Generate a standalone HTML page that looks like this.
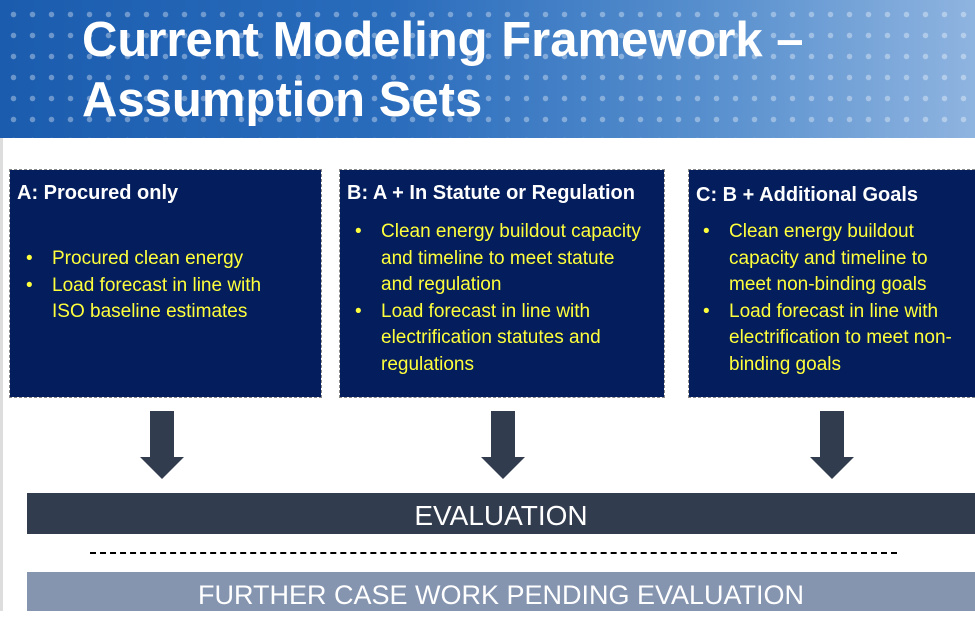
<!DOCTYPE html>
<html><head><style>
body{margin:0;width:975px;height:611px;overflow:hidden;background:#fff;font-family:"Liberation Sans",sans-serif;position:relative}
.hdr{position:absolute;left:0;top:0;width:975px;height:138px;background:linear-gradient(90deg,#1b5cae 0%,#2a6cbc 40%,#5b92cf 75%,#8fb4e0 100%)}
.dots{position:absolute;left:0;top:0;width:975px;height:138px;background-image:radial-gradient(circle,rgba(255,255,255,.35) 2.5px,transparent 3px);background-size:19px 21px;background-position:4px 4px}
.t{position:absolute;left:82px;color:#fff;font-weight:bold;font-size:49px;white-space:nowrap;letter-spacing:0}
.box{position:absolute;top:170px;height:227px;background:#041d5c;outline:1px dashed #888;color:#fff}
.box h3{margin:0;position:absolute;left:7px;top:12px;font-size:20px;font-weight:bold;white-space:nowrap}
.box ul{position:absolute;margin:0;padding:0;list-style:none;color:#ffff3c;font-size:19px;line-height:26.6px}
.box li{position:relative;padding-left:34px;white-space:nowrap}
.box li:before{content:"•";position:absolute;left:8px}
.arr{position:absolute;top:411px;width:44px;height:68px}
.bar{position:absolute;left:27px;width:948px;color:#fff;text-align:center}
</style></head><body>
<div class="hdr"></div><div class="dots"></div>
<div class="t" style="top:12px">Current Modeling Framework –</div>
<div class="t" style="top:72px">Assumption Sets</div>
<div style="position:absolute;left:0;top:138px;width:3px;height:473px;background:#ddd"></div>

<div class="box" style="left:10px;width:311px"><h3>A: Procured only</h3>
<ul style="top:76px;left:8px"><li>Procured clean energy</li><li>Load forecast in line with<br>ISO baseline estimates</li></ul></div>
<div class="box" style="left:340px;width:324px"><h3>B: A + In Statute or Regulation</h3>
<ul style="top:49px;left:7px"><li>Clean energy buildout capacity<br>and timeline to meet statute<br>and regulation</li><li>Load forecast in line with<br>electrification statutes and<br>regulations</li></ul></div>
<div class="box" style="left:689px;width:290px"><h3 style="top:14px">C: B + Additional Goals</h3>
<ul style="top:49px;left:6px"><li>Clean energy buildout<br>capacity and timeline to<br>meet non-binding goals</li><li>Load forecast in line with<br>electrification to meet non-<br>binding goals</li></ul></div>

<svg class="arr" style="left:140px" viewBox="0 0 44 68"><polygon points="10,0 34,0 34,46 44,46 22,68 0,46 10,46" fill="#323c4f"/></svg>
<svg class="arr" style="left:481px" viewBox="0 0 44 68"><polygon points="10,0 34,0 34,46 44,46 22,68 0,46 10,46" fill="#323c4f"/></svg>
<svg class="arr" style="left:810px" viewBox="0 0 44 68"><polygon points="10,0 34,0 34,46 44,46 22,68 0,46 10,46" fill="#323c4f"/></svg>

<div class="bar" style="top:493px;height:41px;line-height:45px;background:#323c4f;font-size:28px">EVALUATION</div>
<div style="position:absolute;left:90px;top:552px;width:807px;border-top:2px dashed #000"></div>
<div class="bar" style="top:572px;height:39px;line-height:46px;background:#8595b0;font-size:27px">FURTHER CASE WORK PENDING EVALUATION</div>
</body></html>
